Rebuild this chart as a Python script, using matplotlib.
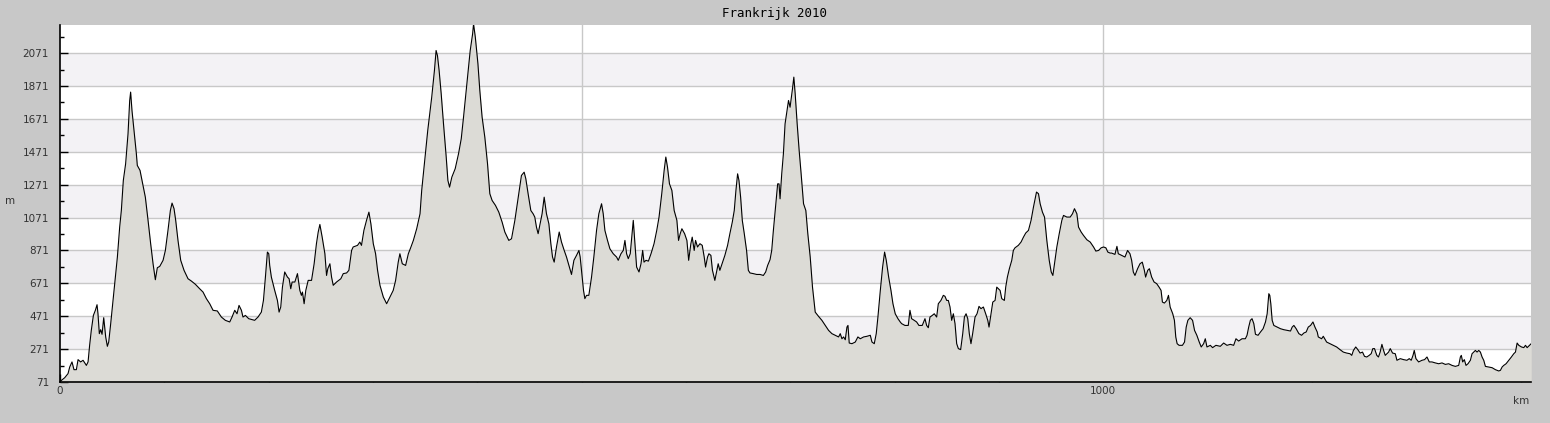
import numpy as np
import matplotlib.pyplot as plt
from matplotlib.ticker import MultipleLocator, FixedLocator

# route profile (km along route, altitude in m)
km = [
    0.6, 4.5, 7.7, 9.3, 11.5, 13.4, 15.7, 17.3, 19.8, 22.1, 25.3, 26.9, 28.4, 30.0, 32.0, 33.9, 35.5, 36.4,
    37.7, 39.0, 40.3, 41.9, 43.8, 45.4, 46.7, 48.6, 50.8, 53.1, 55.0, 57.2, 58.8, 60.7, 62.9, 65.2, 66.8,
    67.7, 69.0, 70.9, 73.2, 74.1, 76.7, 79.6, 81.8, 84.4, 86.9, 89.2, 91.4, 93.3, 95.6, 98.8, 101.0, 103.5,
    105.8, 107.4, 109.3, 110.9, 113.1, 115.7, 118.9, 122.7, 125.9, 129.8, 133.9, 137.1, 140.3, 143.5, 146.7,
    150.8, 154.7, 158.5, 162.7, 164.9, 167.5, 169.7, 171.6, 173.9, 175.4, 177.7, 180.9, 186.6, 189.8, 193.0,
    195.0, 196.9, 198.8, 200.1, 201.0,
    202.6, 205.8, 208.4, 210.0, 211.6, 213.2, 215.4, 218.0, 219.6, 221.2, 222.5, 225.1, 227.6, 229.9, 231.4,
    232.4, 234.0, 235.6, 237.9, 241.1, 243.6, 245.8, 247.5, 249.1, 251.3, 253.9, 255.5, 256.7, 258.7, 260.3,
    261.9, 265.1, 269.2, 271.5, 274.7, 276.9, 279.5, 281.0, 285.2, 287.4, 289.0, 291.3, 293.8, 296.1, 298.0,
    300.3, 302.5, 304.4, 306.7, 309.9, 313.1, 316.3, 319.4, 321.7, 324.2, 325.8, 328.1, 331.3, 333.9, 336.4,
    338.7, 341.9, 345.1, 346.7, 349.3, 352.5, 356.3, 358.9, 360.5, 361.8, 363.4, 365.4, 367.6, 370.2, 371.8,
    373.4, 375.6, 378.8, 382.0, 384.6, 386.8, 390.0, 393.2, 395.5, 396.4, 398.1, 400.6,
    402.4, 404.6, 407.2, 409.8, 412.0, 414.2, 417.4, 420.6, 423.8, 426.4, 430.2, 432.8, 436.0, 439.2, 442.3,
    444.9, 446.5, 448.7, 451.3, 453.5, 455.1, 456.7, 458.3, 459.9, 462.1, 464.1, 466.3, 468.6, 470.5, 472.1,
    473.7, 475.9, 478.5, 480.7, 483.3, 485.5, 487.8, 490.3, 492.6, 495.1, 497.4, 498.6, 500.5, 501.8, 503.1,
    504.7, 506.9, 509.5, 511.7, 514.3, 516.5, 519.1, 520.7, 522.3, 524.8, 527.1, 530.3, 533.5, 535.1, 537.7,
    539.9, 541.5, 543.1, 544.7, 546.6, 548.6, 549.5, 551.1, 552.7, 555.0, 556.9, 558.5, 559.8, 561.7, 564.0,
    566.5, 569.4, 572.0, 574.2, 576.8, 579.1, 580.7, 582.3, 584.2, 586.5, 588.7, 591.3, 592.9, 594.5, 596.1,
    598.7, 600.9, 602.6,
    604.7, 606.0, 607.9, 609.2, 611.1, 613.4, 615.6, 617.5, 618.8, 620.7, 622.0, 623.9, 625.4, 627.7, 629.3,
    630.9, 632.5, 635.1, 637.3, 639.9, 642.1, 644.4, 646.3, 647.9, 649.5, 650.8, 652.4, 654.0, 655.9, 658.1,
    659.8, 661.4, 664.6, 667.8, 671.0, 674.2, 676.4, 678.3, 680.6, 682.2, 683.8, 686.0, 687.9, 689.2, 690.2,
    691.8, 693.4, 695.0, 696.6, 698.3, 699.8, 702.1, 703.4, 704.7, 706.6, 708.5, 710.4, 712.7, 714.9, 716.8,
    719.1, 721.3, 723.9, 727.1, 730.3, 733.5, 736.7, 739.9, 743.1, 746.3, 747.9, 749.5, 751.1, 752.7, 754.3,
    755.3, 756.5, 759.1, 762.3, 764.8, 767.1, 770.3, 773.5, 776.7, 778.3, 780.5, 782.4, 784.0, 786.3, 788.5,
    790.4, 792.0, 794.3, 796.5, 798.4, 800.6, 803.2, 805.4,
    806.7, 809.9, 813.1, 814.7, 816.3, 818.8, 821.1, 823.3, 826.5, 829.1, 830.7, 832.3, 833.9, 836.1, 838.0,
    840.3, 841.9, 844.4, 846.7, 848.3, 849.9, 851.5, 853.1, 854.7, 856.3, 857.9, 859.5, 861.1, 863.3, 865.3,
    866.9, 868.5, 870.1, 871.6, 873.2, 874.8, 877.1, 879.0, 880.9, 882.8, 885.1, 887.3, 889.3, 890.5, 892.4,
    894.1, 896.3, 897.9, 899.5, 901.1, 902.7, 905.2, 906.5, 908.1, 910.0, 912.3, 913.8, 915.4, 918.6, 921.2,
    923.5, 925.7, 928.3, 930.8, 933.1, 934.7, 936.0, 937.9, 939.5, 941.7, 943.7, 945.9, 948.2, 950.1, 951.7,
    953.3, 955.5, 957.8, 960.3, 961.9, 965.1, 968.3, 970.5, 972.4, 974.7, 976.3, 978.8, 981.1, 984.3, 987.5,
    990.7, 992.9, 995.5, 998.0, 1000.3, 1002.5, 1004.4, 1006.6,
    1008.0, 1011.2, 1013.1, 1014.4, 1017.6, 1020.8, 1023.3, 1025.6, 1027.2, 1028.8, 1030.4, 1032.9, 1035.2,
    1037.4, 1039.4, 1040.6, 1042.6, 1044.2, 1046.4, 1048.7, 1051.2, 1053.5, 1055.4, 1056.7, 1058.6, 1060.9,
    1062.5, 1064.1, 1066.6, 1068.2, 1069.5, 1070.8, 1072.7, 1075.9, 1077.9, 1079.5, 1081.1, 1083.3, 1085.6,
    1087.5, 1089.7, 1092.0, 1093.9, 1096.2, 1097.8, 1099.4, 1102.6, 1104.8, 1108.0, 1112.2, 1115.4, 1118.6,
    1121.8, 1125.0, 1127.2, 1129.8, 1133.0, 1136.2, 1137.8, 1139.4, 1141.0, 1142.6, 1144.3, 1145.9, 1148.4,
    1150.7, 1153.2, 1155.5, 1157.1, 1158.7, 1159.6, 1160.6, 1161.9, 1163.5, 1166.7, 1169.9, 1173.1, 1176.3,
    1179.5, 1181.1, 1182.7, 1184.9, 1187.5, 1190.1, 1192.3, 1194.5, 1196.5, 1198.7, 1201.0, 1202.9, 1205.1,
    1206.1, 1209.3, 1210.9, 1214.1, 1217.3, 1220.5, 1223.7, 1226.9, 1230.1, 1233.3, 1236.5, 1238.2, 1239.8,
    1242.0, 1244.0, 1246.2, 1248.5, 1250.4, 1252.6, 1254.9, 1256.8, 1258.4, 1260.0, 1262.2, 1263.8, 1265.4,
    1267.1, 1268.7, 1270.3, 1271.9, 1273.5, 1275.1, 1277.3, 1279.9, 1281.5, 1284.7, 1287.9, 1291.1, 1293.3,
    1295.2, 1296.9, 1298.1, 1299.7, 1302.3, 1305.5, 1308.0, 1310.3, 1312.5, 1315.1, 1318.3, 1321.5, 1324.7,
    1327.9, 1331.1, 1334.3, 1337.5, 1340.7, 1342.3, 1343.2, 1344.5, 1346.1, 1347.7, 1349.6, 1351.9, 1353.5,
    1355.1, 1356.7, 1358.3, 1359.9, 1361.5, 1363.1, 1364.7, 1366.3, 1369.5, 1372.7, 1375.9, 1379.1, 1380.7,
    1382.3, 1383.9, 1386.1, 1388.7, 1391.2, 1393.5, 1395.1, 1396.7, 1398.3, 1400.9, 1403.1, 1404.7, 1406.3,
    1408.6, 1410.2,
]
alt = [
    77, 97, 122, 162, 193, 146, 146, 207, 193, 203, 172, 193, 294, 385, 476, 507, 541, 486,
    365, 389, 361, 462, 345, 288, 314, 426, 567, 709, 831, 1013, 1114, 1297, 1398, 1580, 1783,
    1834, 1722, 1601, 1459, 1388, 1358, 1266, 1195, 1054, 912, 790, 693, 766, 774, 811, 871, 993,
    1114, 1159, 1125, 1054, 932, 811, 750, 699, 685, 665, 638, 618, 578, 547, 507,
    503, 466, 446, 436, 466, 507, 486, 537, 507, 466, 476, 456, 446, 466, 496,
    567, 709, 861, 851, 780,
    709, 628, 567, 496, 527, 648, 740, 709, 699, 638, 679, 679, 730, 628, 598,
    618, 547, 628, 689, 689, 790, 912, 983, 1029, 952, 851, 719, 760, 790, 709,
    659, 679, 699, 730, 734, 750, 871, 892, 902, 922, 902, 993, 1054, 1104, 1033,
    912, 851, 750, 659, 588, 547, 588, 628, 689, 800, 851, 790, 780, 851, 892,
    932, 1003, 1094, 1236, 1398, 1601, 1803, 1965, 2087, 2056, 1965, 1823, 1641, 1439, 1297,
    1256, 1317, 1368, 1459, 1550, 1682, 1884, 2087, 2188, 2249, 2168, 2006,
    1844, 1682, 1560, 1398, 1216, 1175, 1145, 1104, 1043, 983, 932, 942, 1054, 1195, 1327,
    1347, 1307, 1216, 1114, 1094, 1074, 1013, 973, 1023, 1094, 1195, 1094, 1033, 912, 831,
    800, 892, 983, 922, 871, 831, 780, 725, 811, 841, 871, 831, 709, 628, 578,
    598, 598, 709, 831, 993, 1094, 1155, 1094, 993, 932, 881, 851, 831, 811, 851,
    871, 932, 851, 821, 851, 993, 1054, 912, 770, 740, 790, 871, 800, 811, 806,
    851, 912, 993, 1074, 1216, 1358, 1439, 1378, 1276, 1236, 1114, 1054, 932, 973, 1003,
    973, 932, 811,
    912, 952, 871, 932, 892, 912, 902, 831, 770, 831, 851, 841, 750, 689, 740,
    790, 750, 800, 841, 902, 973, 1043, 1114, 1236, 1337, 1297, 1195, 1054, 973, 871,
    750, 734, 730, 725, 725, 719, 740, 780, 815, 871, 993, 1145, 1276, 1276, 1185,
    1337, 1459, 1641, 1712, 1783, 1742, 1854, 1925, 1823, 1641, 1479, 1337, 1155, 1114, 973,
    831, 648, 496, 470, 446, 415, 385, 365, 355, 345, 365, 334, 345, 328, 405,
    415, 308, 304, 314, 345, 334, 345, 349, 355, 314, 304, 365, 466, 628, 770,
    861, 811, 709, 628, 547, 486, 456, 436,
    426, 415, 415, 507, 456, 446, 436, 415, 415, 456, 415, 401, 466, 476, 486,
    466, 547, 567, 598, 592, 567, 567, 527, 446, 486, 426, 304, 274, 268, 365,
    466, 486, 456, 365, 304, 365, 466, 486, 531, 517, 527, 486, 446, 405, 486,
    557, 567, 648, 638, 628, 578, 567, 648, 709, 760, 811, 871, 887, 902, 922,
    952, 977, 993, 1054, 1135, 1185, 1226, 1216, 1155, 1104, 1074, 932, 811, 740, 719,
    790, 892, 973, 1054, 1084, 1074, 1074, 1094, 1125, 1094, 1013, 983, 962, 936, 922,
    892, 867, 871, 887, 892, 887, 861, 855,
    855, 847, 896, 851, 841, 831, 871, 851, 811, 740, 719, 760, 790,
    800, 750, 709, 750, 760, 709, 679, 669, 648, 628, 557, 551, 567,
    598, 527, 486, 446, 345, 304, 294, 294, 314, 405, 446, 462, 446,
    385, 355, 314, 284, 304, 334, 284, 294, 280, 294, 288, 308, 294,
    300, 294, 334, 320, 334, 334, 355, 405, 446, 456, 426, 361, 355,
    375, 395, 436, 486, 608, 598, 547, 446, 415, 405, 395, 389, 385,
    381, 405, 415, 395, 365, 355, 369, 375, 405, 415, 436, 405, 375,
    345, 334, 349, 314, 304, 294, 284, 268, 253, 247, 243, 233, 263,
    284, 268, 247, 253, 227, 223, 233, 243, 274, 274, 233, 223, 253,
    300, 263, 233, 243, 253, 274, 247, 243, 203, 213, 207, 203, 213,
    203, 233, 263, 213, 193, 203, 207, 223, 193, 193, 187, 182, 187,
    178, 182, 172, 166, 172, 223, 233, 193, 207, 172, 182, 203, 243,
    253, 263, 253, 263, 253, 223, 203, 166, 162, 158, 146, 138, 142,
    162, 172, 182, 203, 223, 243, 253, 308, 294, 284, 280, 294, 280,
    294, 304,
]

y_labels = [71, 271, 471, 671, 871, 1071, 1271, 1471, 1671, 1871, 2071]

fig = plt.figure(figsize=(15.5, 4.23), dpi=100, facecolor='#c8c8c8')
ax = fig.add_axes([60 / 1550, 41 / 423, 1471 / 1550, 357 / 423])
ax.set_facecolor('white')

y0, y1 = 71, 2242
ax.set_xlim(0, 1410)
ax.set_ylim(y0, y1)

# alternating bands + grid
for i in range(len(y_labels) - 1):
    if i % 2 == 1:
        ax.axhspan(y_labels[i], y_labels[i + 1], color='#f3f2f5', lw=0, zorder=0)
for v in y_labels[1:]:
    ax.axhline(v, color='#c8c8c8', lw=1, zorder=1)
for v in (500, 1000):
    ax.axvline(v, color='#c8c8c8', lw=1, zorder=1)

ax.fill_between(km, alt, y0, color='#dcdbd6', lw=0, zorder=2)
ax.plot(km, alt, color='black', lw=0.8, zorder=3)

for s in ('top', 'right'):
    ax.spines[s].set_visible(False)
for s in ('left', 'bottom'):
    ax.spines[s].set_color('black')
    ax.spines[s].set_linewidth(1.2)

ax.yaxis.set_major_locator(FixedLocator(y_labels))
ax.yaxis.set_minor_locator(FixedLocator([v + 100 for v in y_labels]))
ax.set_yticklabels([str(v) for v in y_labels])
ax.xaxis.set_major_locator(FixedLocator([0, 500, 1000]))
ax.xaxis.set_minor_locator(MultipleLocator(100))
ax.set_xticklabels(['0', '', '1000'])

ax.tick_params(axis='both', which='major', direction='in', length=6, width=1,
               labelsize=7.5, labelcolor='#333333', color='black')
ax.tick_params(axis='both', which='minor', direction='in', length=3, width=1, color='black')
ax.tick_params(axis='y', which='major', pad=8)
ax.tick_params(axis='x', which='major', pad=3)

fig.text(10 / 1550, 1 - 201 / 423, 'm', fontsize=7.5, color='#333333', ha='center', va='center')
fig.text(1521 / 1550, 1 - 401 / 423, 'km', fontsize=7.5, color='#333333', ha='center', va='center')
fig.text(775 / 1550, 1 - 14 / 423, 'Frankrijk 2010', fontsize=9, family='DejaVu Sans Mono',
         color='black', ha='center', va='center')

fig.savefig('out.png', dpi=100, facecolor=fig.get_facecolor())
